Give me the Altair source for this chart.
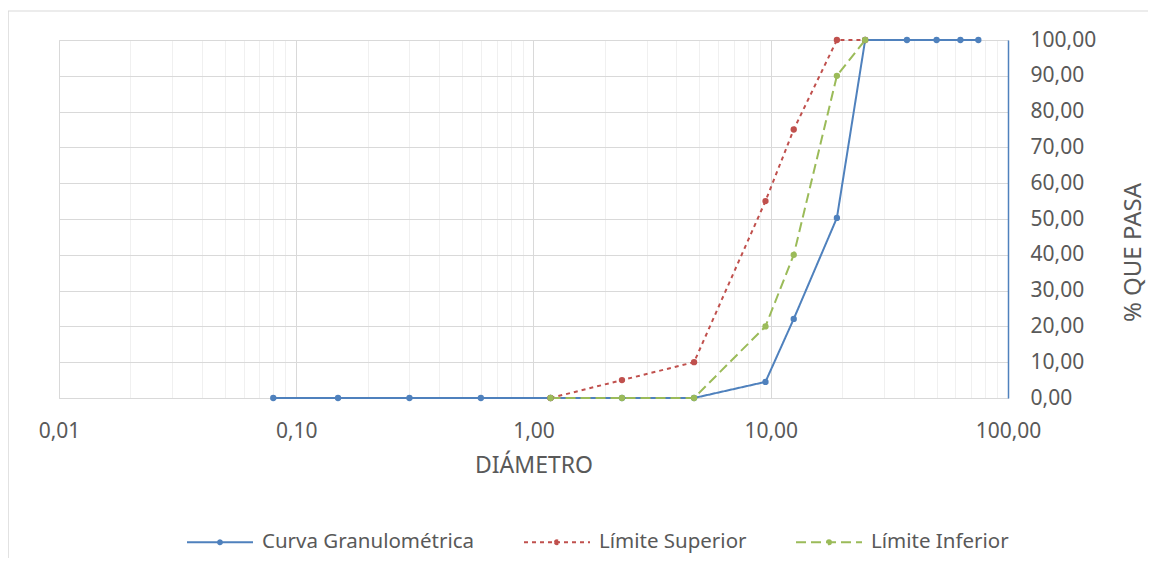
import altair as alt
import pandas as pd

# --- data ---
diam_curva = [0.08, 0.15, 0.3, 0.6, 1.18, 2.36, 4.75, 9.5, 12.5, 19, 25, 37.5, 50, 63, 75]
pasa_curva = [0, 0, 0, 0, 0, 0, 0, 4.5, 22.1, 50.3, 100, 100, 100, 100, 100]

diam_lim = [1.18, 2.36, 4.75, 9.5, 12.5, 19, 25]
pasa_sup = [0, 5, 10, 55, 75, 100, 100]
pasa_inf = [0, 0, 0, 20, 40, 90, 100]

series_names = ["Curva Granulométrica", "Límite Superior", "Límite Inferior"]
series_colors = ["#4F81BD", "#C0504D", "#9BBB59"]
series_dash = [[1, 0], [4, 4], [10, 5]]

x_grid_values = [m * 10 ** e for e in range(-2, 2) for m in range(1, 10)] + [100]
y_values = list(range(0, 101, 10))

rows = []
for d, p in zip(diam_curva, pasa_curva):
    rows.append({"serie": series_names[0], "d": d, "p": p})
for d, p in zip(diam_lim, pasa_sup):
    rows.append({"serie": series_names[1], "d": d, "p": p})
for d, p in zip(diam_lim, pasa_inf):
    rows.append({"serie": series_names[2], "d": d, "p": p})
df = pd.DataFrame(rows)

FONT = "Noto Sans"
LABEL_COLOR = "#595959"
LBL = 21
TTL = 23
major_test = "abs(log(datum.value)/LN10 - round(log(datum.value)/LN10)) < 0.001"

x_enc = alt.X(
    "d:Q",
    scale=alt.Scale(type="log", domain=[0.01, 100], nice=False),
    axis=alt.Axis(
        title="DIÁMETRO",
        values=x_grid_values,
        labelExpr=f"({major_test}) ? replace(format(datum.value, '.2f'), '.', ',') : ''",
        ticks=False,
        domainColor="#d9d9d9",
        domainWidth=1,
        gridColor={"condition": {"test": major_test, "value": "#d9d9d9"}, "value": "#f0f0f0"},
        gridWidth=1,
        labelPadding=22,
        titlePadding=13,
        labelFontSize=LBL,
        titleFontSize=TTL,
        labelColor=LABEL_COLOR,
        titleColor=LABEL_COLOR,
        titleFontWeight="normal",
        labelFont=FONT,
        titleFont=FONT,
        labelOverlap=False,
        labelFlush=False,
    ),
)

y_enc = alt.Y(
    "p:Q",
    scale=alt.Scale(domain=[0, 100], nice=False),
    axis=alt.Axis(
        title="% QUE PASA",
        orient="right",
        values=y_values,
        labelExpr="replace(format(datum.value, '.2f'), '.', ',')",
        ticks=False,
        domainColor="#4F81BD",
        domainWidth=1.5,
        gridColor="#d9d9d9",
        gridWidth=1,
        labelPadding=22,
        titleAngle=270,
        titleX=125,
        titleY=212,
        titleAlign="center",
        titleBaseline="middle",
        labelFontSize=LBL,
        titleFontSize=24,
        labelColor=LABEL_COLOR,
        titleColor=LABEL_COLOR,
        titleFontWeight="normal",
        labelFont=FONT,
        titleFont=FONT,
    ),
)

color_scale = alt.Scale(domain=series_names, range=series_colors)
legend = alt.Legend(
    title=None,
    orient="none",
    legendX=127,
    legendY=468,
    direction="horizontal",
    symbolType="M-1,0H1M-0.06,0A0.06,0.06,0,1,1,0.06,0A0.06,0.06,0,1,1,-0.06,0Z",
    symbolSize=4356,
    symbolStrokeWidth=2,
    symbolFillColor=alt.ExprRef(expr="scale('color', datum.value)"),
    labelFontSize=20.5,
    labelFont=FONT,
    labelColor=LABEL_COLOR,
    labelLimit=0,
    labelOffset=8,
    columnPadding=45,
)

base = alt.Chart(df)

lines = base.mark_line(strokeWidth=2).encode(
    x=x_enc,
    y=y_enc,
    color=alt.Color("serie:N", scale=color_scale, legend=legend),
    strokeDash=alt.StrokeDash(
        "serie:N", scale=alt.Scale(domain=series_names, range=series_dash), legend=None
    ),
    detail="serie:N",
)
points = base.mark_circle(size=40, opacity=1).encode(
    x=x_enc,
    y=y_enc,
    color=alt.Color("serie:N", scale=color_scale, legend=None),
)

frame_top = alt.Chart(pd.DataFrame({"a": [0]})).mark_rule(color="#d9d9d9", strokeWidth=1).encode(
    x=alt.value(-51), x2=alt.value(1200), y=alt.value(-29)
)
frame_left = alt.Chart(pd.DataFrame({"a": [0]})).mark_rule(color="#d9d9d9", strokeWidth=1.5).encode(
    x=alt.value(-51), y=alt.value(-29), y2=alt.value(600)
)

chart = (
    alt.layer(frame_top, frame_left, lines, points)
    .properties(
        width=949,
        height=358,
        autosize=alt.AutoSizeParams(type="none"),
        padding={"left": 51, "top": 32, "right": 140, "bottom": 160},
    )
    .configure_view(stroke="#d9d9d9")
    .configure(background="white")
)

chart.save("out.html", embed_options={"renderer": "svg", "actions": False})
